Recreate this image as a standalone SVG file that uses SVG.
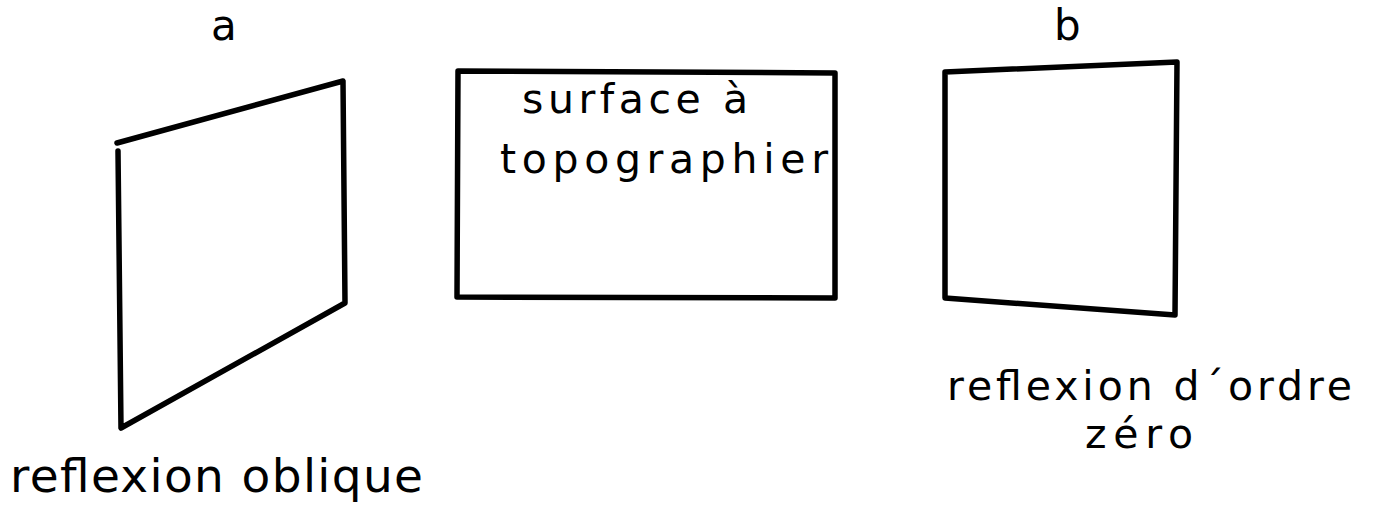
<svg xmlns="http://www.w3.org/2000/svg" width="1379" height="512" viewBox="0 0 1379 512">
<style>
.edge{fill:none;stroke:#000;stroke-width:5.5;stroke-linecap:round;stroke-linejoin:round}
text{font-family:"DejaVu Sans","Liberation Sans",sans-serif;fill:#000}
</style>
<rect width="1379" height="512" fill="#fff"/>
<g id="label-a"><text x="211" y="40" font-size="42">a</text></g>
<g id="label-b"><text x="1054" y="40" font-size="42">b</text></g>
<g id="oblique">
<path class="edge" d="M117 143 L343 81 L345 303 L121 428 L118 151"/>
<text x="10" y="492" font-size="47" textLength="413" lengthAdjust="spacing">reflexion oblique</text>
</g>
<g id="surface">
<path class="edge" d="M458 71 L835 73 L835 298 L457 297 Z"/>
<text x="522" y="113" font-size="41" textLength="226" lengthAdjust="spacing">surface à</text>
<text x="500" y="173" font-size="41" textLength="328" lengthAdjust="spacing">topographier</text>
</g>
<g id="zero">
<path class="edge" d="M945 72 L1177 62 L1175 315 L945 298 Z"/>
<text x="947" y="400" font-size="41" textLength="405" lengthAdjust="spacing">reflexion d´ordre</text>
<text x="1085" y="448" font-size="41" textLength="108" lengthAdjust="spacing">zéro</text>
</g>
<g id="connectors"></g>
</svg>
